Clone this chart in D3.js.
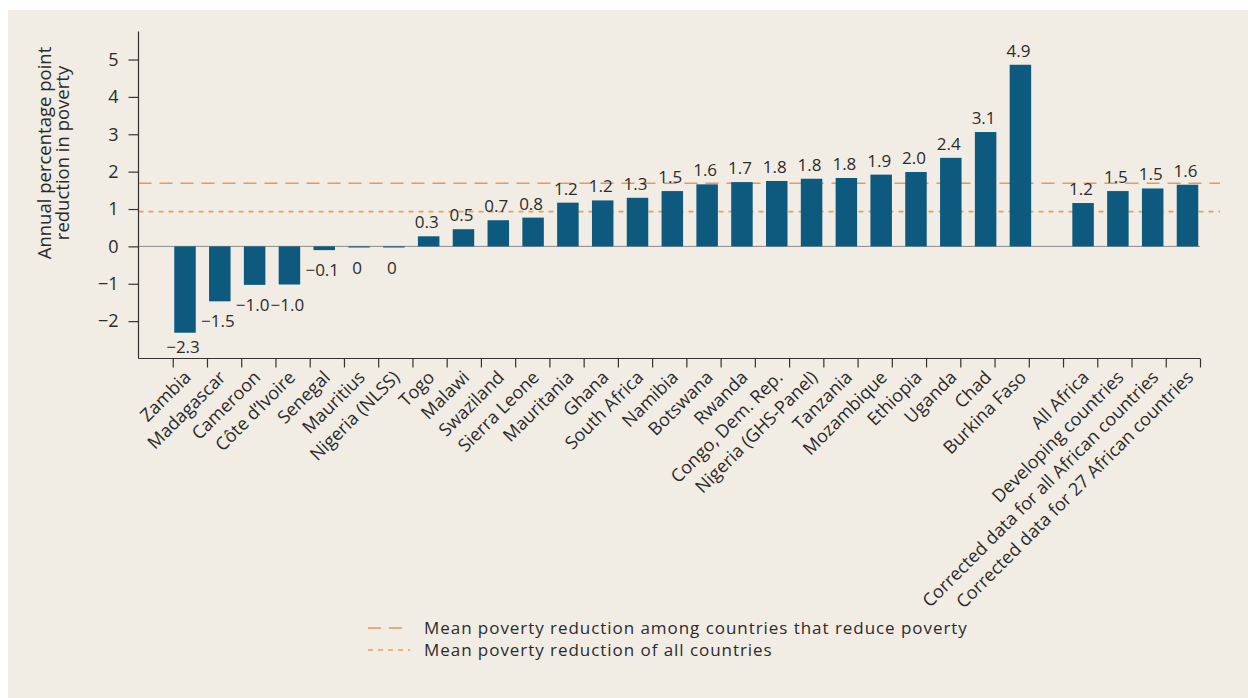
<!DOCTYPE html>
<html><head><meta charset="utf-8">
<script src="https://cdn.jsdelivr.net/npm/d3@7"></script>
<style>
html,body{margin:0;padding:0;background:#fff;}
svg{display:block;font-family:"Open Sans",sans-serif;}
</style></head><body>
<svg id="chart" width="1248" height="698"></svg>
<script>
// ---- data ----
const countries = ["Zambia","Madagascar","Cameroon","Côte d’Ivoire","Senegal","Mauritius","Nigeria (NLSS)","Togo","Malawi","Swaziland","Sierra Leone","Mauritania","Ghana","South Africa","Namibia","Botswana","Rwanda","Congo, Dem. Rep.","Nigeria (GHS-Panel)","Tanzania","Mozambique","Ethiopia","Uganda","Chad","Burkina Faso"];
const countryValues = [-2.31,-1.47,-1.03,-1.02,-0.1,-0.03,-0.03,0.27,0.46,0.7,0.77,1.17,1.23,1.3,1.48,1.66,1.72,1.75,1.81,1.83,1.92,1.99,2.37,3.06,4.86];
const countryLabels = ["−2.3","−1.5","−1.0","−1.0","−0.1","0","0","0.3","0.5","0.7","0.8","1.2","1.2","1.3","1.5","1.6","1.7","1.8","1.8","1.8","1.9","2.0","2.4","3.1","4.9"];
const aggregates = ["All Africa","Developing countries","Corrected data for all African countries","Corrected data for 27 African countries"];
const aggregateValues = [1.16,1.48,1.55,1.65];
const aggregateLabels = ["1.2","1.5","1.5","1.6"];
const meanReducers = 1.69;
const meanAll = 0.93;
const yTicks = [-2,-1,0,1,2,3,4,5];
const yTitle = ["Annual percentage point","reduction in poverty"];
const legendItems = ["Mean poverty reduction among countries that reduce poverty","Mean poverty reduction of all countries"];

// ---- layout ----
const W = 1248, H = 698;
const axL = 138.5, axR = 1200, axB = 358.5, axT = 31.5;
const nSlots = 31, gapSlots = 1.8;
const barColor = "#0e5a7f", textColor = "#2b2b2b";
const dashColor = "#e3985f", dotColor = "#dba65e";

const svg = d3.select("#chart");
svg.append("rect").attr("x",8).attr("y",10).attr("width",W-8).attr("height",H-10).attr("fill","#f1ede4");

const bars = countries.map((c,i)=>({name:c,value:countryValues[i],label:countryLabels[i],slot:i+1,pos:i}))
  .concat(aggregates.map((c,j)=>({name:c,value:aggregateValues[j],label:aggregateLabels[j],slot:countries.length+2+j,pos:countries.length-1+gapSlots+j})));

const y = d3.scaleLinear().domain([-3,5.75]).range([axB, axT]);
const xs = d3.scaleLinear().domain([0,nSlots]).range([axL, axR]);
const xb = d3.scaleLinear().domain([0, countries.length-1+gapSlots+aggregates.length-1]).range([185, 1187.5]);
const bw = 21.5;

// zero line
svg.append("line").attr("x1",axL).attr("x2",axR).attr("y1",y(0)).attr("y2",y(0))
  .attr("stroke","#8a8a8a").attr("stroke-width",1);

// mean lines
svg.append("line").attr("x1",axL).attr("x2",1220).attr("y1",y(meanReducers)).attr("y2",y(meanReducers))
  .attr("stroke",dashColor).attr("stroke-width",1.6).attr("stroke-dasharray","13,8");
svg.append("line").attr("x1",axL).attr("x2",1220).attr("y1",y(meanAll)).attr("y2",y(meanAll))
  .attr("stroke",dotColor).attr("stroke-width",1.6).attr("stroke-dasharray","5,5");

// bars
svg.selectAll("rect.bar").data(bars).join("rect").attr("class","bar")
  .attr("x",d=>xb(d.pos)-bw/2).attr("width",bw)
  .attr("y",d=>y(Math.max(0,d.value))).attr("height",d=>Math.abs(y(d.value)-y(0)))
  .attr("fill",barColor);

// value labels
svg.selectAll("text.val").data(bars).join("text").attr("class","val")
  .attr("x",d=>xb(d.pos)-2).attr("text-anchor","middle")
  .attr("y",d=>d.value>0 ? y(d.value)-8 : Math.min(y(d.value)+26, axB-6))
  .attr("font-size",17).attr("fill",textColor).text(d=>d.label);

// y axis
const yAxis = d3.axisLeft(y).tickValues(yTicks).tickSize(10).tickPadding(10).tickFormat(d3.format("d"));
const gy = svg.append("g").attr("transform",`translate(${axL},0)`).call(yAxis);
gy.select(".domain").attr("d",`M0,${axT}V${axB}`);
gy.selectAll("path,line").attr("stroke","#333").attr("stroke-width",1.2);
gy.selectAll("text").attr("font-size",18).attr("fill",textColor).attr("font-family","Open Sans");
gy.selectAll("text").text(d=>d3.format("d")(d).replace("-","−"));

// x axis with ticks at slot boundaries
const xAxis = d3.axisBottom(xs).tickValues(d3.range(1,nSlots+1)).tickSize(9).tickFormat("");
const gx = svg.append("g").attr("transform",`translate(0,${axB})`).call(xAxis);
gx.select(".domain").attr("d",`M${axL},0H${axR}`);
gx.selectAll("path,line").attr("stroke","#333").attr("stroke-width",1.2);

// category labels
svg.selectAll("text.cat").data(bars).join("text").attr("class","cat")
  .attr("text-anchor","end").attr("font-size",18).attr("fill",textColor)
  .attr("transform",d=>`translate(${xb(d.pos)+7},${axB+20}) rotate(-45)`)
  .text(d=>d.name);

// y title
const yt = svg.append("text").attr("text-anchor","middle").attr("font-size",18.5).attr("fill",textColor)
  .attr("transform","translate(45,153) rotate(-90)");
yTitle.forEach((t,i)=>yt.append("tspan").attr("x",0).attr("y",i*17.5).attr("dy","0.35em").text(t));

// legend
const lg = svg.append("g");
legendItems.forEach((t,i)=>{
  const ly = 628 + i*22;
  lg.append("line").attr("x1",368).attr("x2",410).attr("y1",ly).attr("y2",ly)
    .attr("stroke", i===0?dashColor:dotColor).attr("stroke-width",1.6)
    .attr("stroke-dasharray", i===0?"13,8":"5,5");
  lg.append("text").attr("x",424).attr("y",ly).attr("dy","0.35em").attr("font-size",17)
    .attr("letter-spacing",0.95).attr("fill",textColor).text(t);
});
</script>
</body></html>
